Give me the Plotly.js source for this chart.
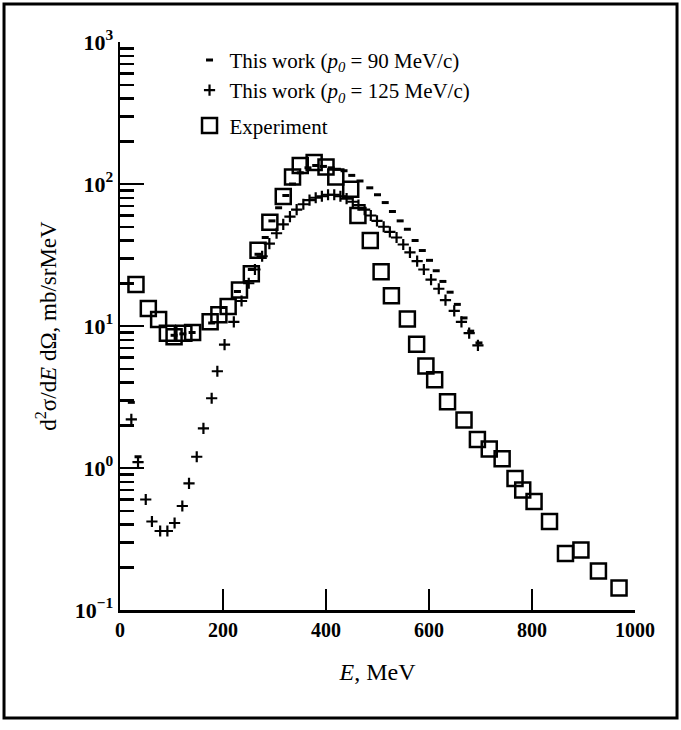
<!DOCTYPE html>
<html>
<head>
<meta charset="utf-8">
<script src="https://cdn.plot.ly/plotly-3.0.1.min.js"></script>
<style>
  html, body { margin: 0; padding: 0; background: #fff; }
  #chart { width: 681px; height: 730px; }
</style>
</head>
<body>
<div id="chart"></div>
<script>
// Experiment (open squares)
const expE = [31,55,75,92,105,124,141,175,192,210,232,255,268,291,317,335,350,377,400,419,448,462,486,507,527,558,576,594,611,636,668,694,717,742,767,782,804,834,865,895,929,969];
const expY = [19.6,13.3,11.1,8.9,8.4,8.9,9.0,10.7,12.0,13.7,17.9,23.3,34.1,53.8,81.6,112,135,142,132,112,92,60,40,24.1,16.3,11.2,7.45,5.23,4.19,2.93,2.18,1.59,1.36,1.16,0.845,0.70,0.58,0.42,0.25,0.265,0.188,0.143];

// This work, p0 = 90 MeV/c ("-" markers)
const p90E = [22,35,105,122,140,178,200,228,255,268,282,295,308,322,335,350,365,380,395,410,422,435,450,466,485,500,515,529,544,558,573,587,601,614,627,641,655,668,681,697];
const p90Y = [2.9,1.2,8.6,8.8,9.0,10.5,13.5,17.5,25,32,42,55,68,83,100,120,130,135,133,130,127,124,115,105,94,84,74,64,55,48,40,34,29,24.5,20.6,17.3,14.2,11.4,9.2,7.6];

// This work, p0 = 125 MeV/c ("+" markers)
const p125E = [22,35,50,62,78,92,106,121,134,149,162,178,189,203,221,236,250,262,276,290,304,317,330,343,356,368,380,392,404,416,428,440,452,463,475,487,499,512,524,537,550,563,577,590,604,619,632,649,663,678,695];
const p125Y = [2.2,1.1,0.6,0.42,0.36,0.36,0.41,0.54,0.78,1.2,1.9,3.1,4.8,7.4,10.7,15,20,25,31,38,45,52,59,66,72,77,80,82,84,84,82,79,75,71,66,60,55,50,46,42,37.5,33,28.6,25,21.2,18.3,15.2,12.8,10.7,8.9,7.3];

const xTicks = [0,200,400,600,800,1000];
const xTickText = ['0','200','400','600','800','1000'];
const yTicks = [0.1,1,10,100,1000];
const yTickText = ['10<sup>−1</sup>','10<sup>0</sup>','10<sup>1</sup>','10<sup>2</sup>','10<sup>3</sup>'];

const minorY = [];
for (let k = -1; k < 3; k++) for (let d = 2; d <= 9; d++) minorY.push(d * Math.pow(10, k));

const FONT = 'Liberation Serif, Times New Roman, serif';

const traces = [
  {
    x: p90E, y: p90Y, type: 'scatter', mode: 'markers',
    name: 'This work (<i>p</i><sub><i>0</i></sub> = 90 MeV/c)',
    legendgroup: 'a',
    marker: { symbol: 'line-ew', size: 5, color: '#000', line: { color: '#000', width: 3 } }
  },
  {
    x: p125E, y: p125Y, type: 'scatter', mode: 'markers',
    name: 'This work (<i>p</i><sub><i>0</i></sub> = 125 MeV/c)',
    legendgroup: 'a',
    marker: { symbol: 'cross-thin', size: 8, color: '#000', line: { color: '#000', width: 2.2 } }
  },
  {
    x: expE, y: expY, type: 'scatter', mode: 'markers',
    name: 'Experiment',
    legendgroup: 'b',
    marker: { symbol: 'square-open', size: 15, color: '#000', line: { color: '#000', width: 2.5 } }
  }
];

const layout = {
  width: 681, height: 730,
  margin: { l: 120, r: 46, t: 42, b: 120 },
  paper_bgcolor: '#fff', plot_bgcolor: '#fff',
  font: { family: FONT, size: 20, color: '#000' },
  showlegend: true,
  legend: {
    x: 0.135, y: 1.004, xanchor: 'left', yanchor: 'top',
    bgcolor: 'rgba(0,0,0,0)', font: { family: FONT, size: 21, color: '#000' },
    traceorder: 'grouped', tracegroupgap: 5, itemwidth: 30
  },
  xaxis: {
    range: [0, 1000], showgrid: false, zeroline: false,
    showline: true, linecolor: '#000', linewidth: 2.5,
    ticks: 'inside', ticklen: 21, tickwidth: 2.5, tickcolor: '#000',
    tickmode: 'array', tickvals: xTicks, ticktext: xTickText,
    tickfont: { family: FONT, size: 20, color: '#000', weight: 'bold' },
    title: { text: '<i>E</i>, MeV', font: { family: FONT, size: 24, color: '#000' }, standoff: 24 }
  },
  yaxis: {
    type: 'log', range: [-1, 3], showgrid: false, zeroline: false,
    showline: true, linecolor: '#000', linewidth: 2.5,
    ticks: 'inside', ticklen: 24, tickwidth: 2.5, tickcolor: '#000',
    tickmode: 'array', tickvals: yTicks, ticktext: yTickText,
    tickfont: { family: FONT, size: 22, color: '#000', weight: 'bold' },
    minor: { tickmode: 'array', tickvals: minorY, ticks: 'inside', ticklen: 14, tickwidth: 2.5, tickcolor: '#000', showgrid: false },
    title: { text: 'd<sup>2</sup>σ/d<i>E</i> dΩ, mb/srMeV', font: { family: FONT, size: 23, color: '#000' }, standoff: 12 }
  },
  shapes: [
    { type: 'rect', xref: 'paper', yref: 'paper', x0: -0.2252, x1: 1.0816, y0: -0.190, y1: 1.0669,
      line: { color: '#000', width: 3 }, fillcolor: 'rgba(0,0,0,0)', layer: 'above' }
  ]
};

Plotly.newPlot('chart', traces, layout, { displayModeBar: false, staticPlot: true });
</script>
</body>
</html>
